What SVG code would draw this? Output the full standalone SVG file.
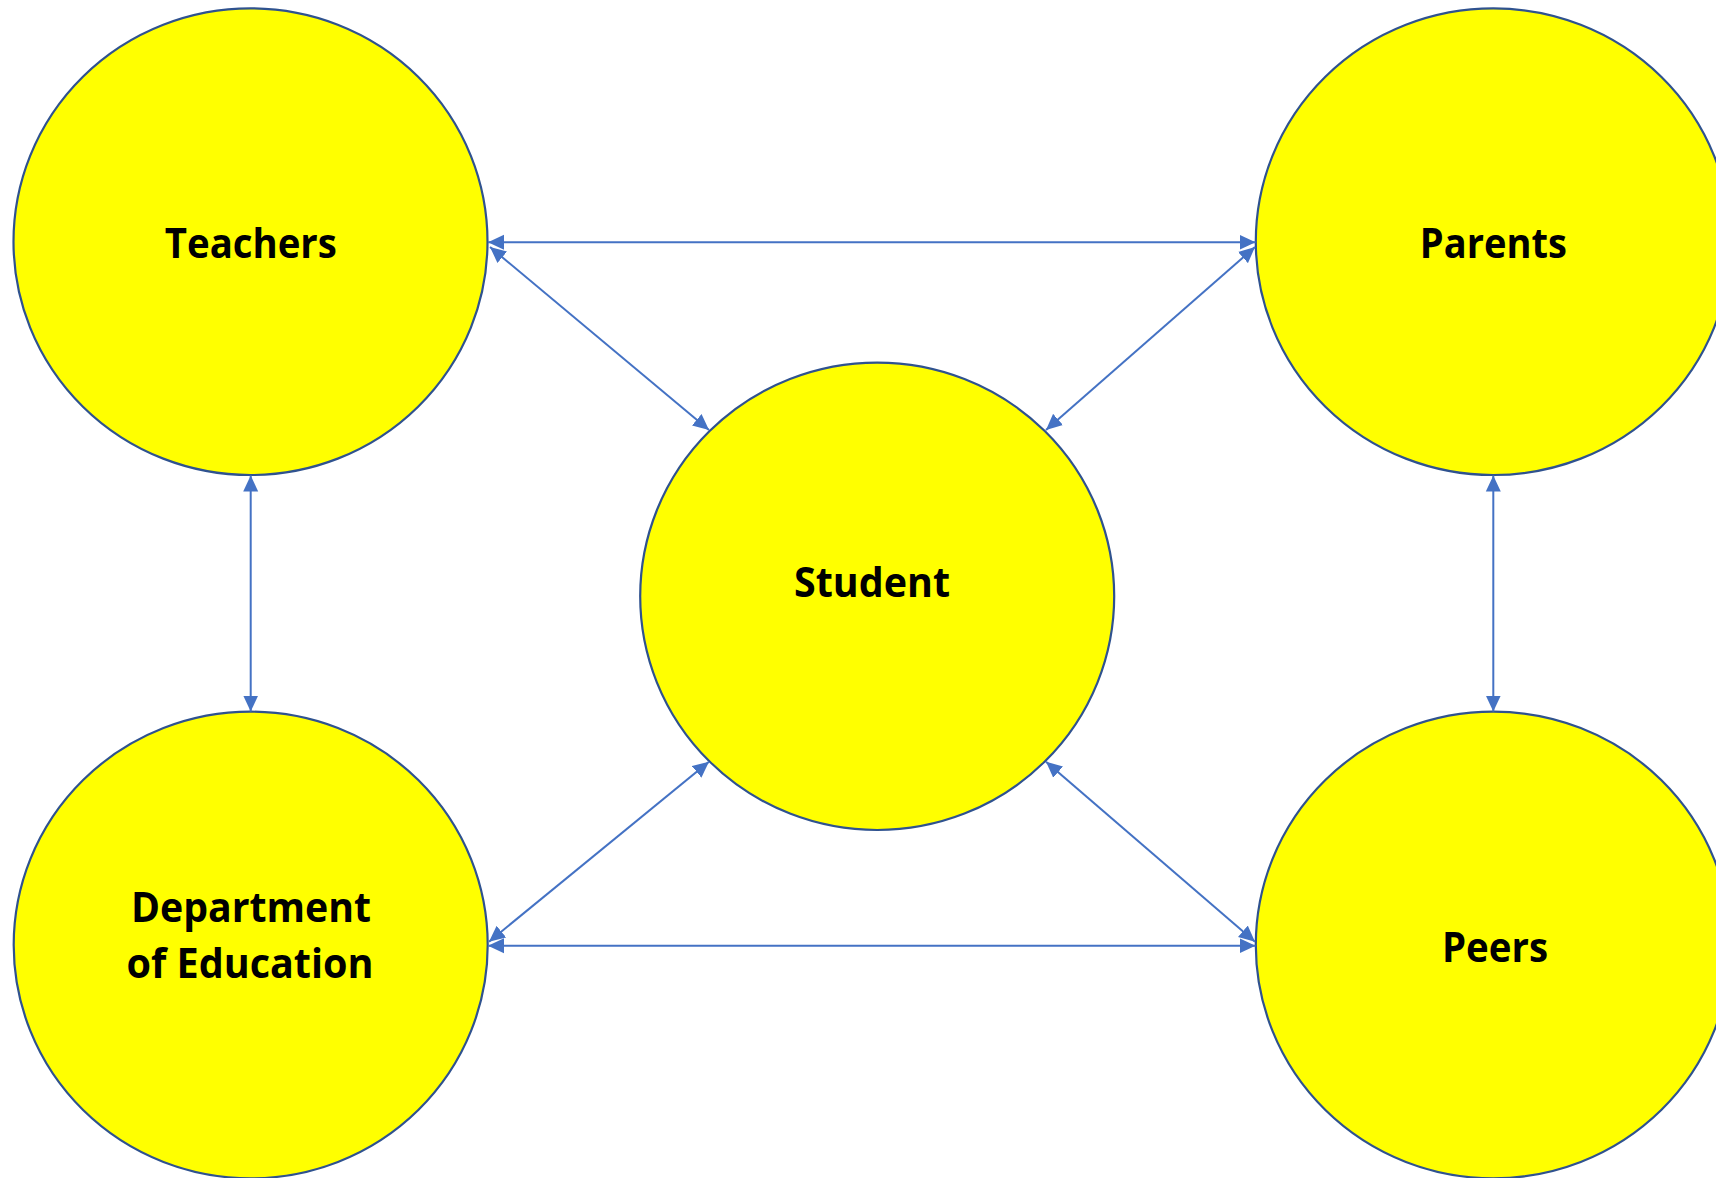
<svg xmlns="http://www.w3.org/2000/svg" width="1716" height="1178" viewBox="0 0 1716 1178">
  <style>
    .node { fill: #FFFF00; stroke: #2F528F; stroke-width: 2.2; }
    .label { font-family: "Open Sans", "Liberation Sans", sans-serif; font-weight: bold; font-size: 42px; fill: #000000; text-anchor: middle; }
    .conn { stroke: #4472C4; stroke-width: 2; fill: none; marker-start: url(#arrow); marker-end: url(#arrow); }
  </style>
  <defs>
    <marker id="arrow" markerUnits="userSpaceOnUse" markerWidth="16" markerHeight="16" refX="16" refY="7.5" orient="auto-start-reverse" viewBox="0 0 16 15">
      <path d="M0,0 L16,7.5 L0,15 Z" fill="#4472C4"/>
    </marker>
  </defs>
  <rect width="1716" height="1178" fill="#FFFFFF"/>

  <g id="teachers">
    <ellipse class="node" cx="250.5" cy="241.7" rx="237" ry="233.3"/>
    <text class="label" x="250.8" y="258.3" textLength="172" lengthAdjust="spacingAndGlyphs">Teachers</text>
  </g>
  <g id="parents">
    <ellipse class="node" cx="1493.3" cy="241.7" rx="237.5" ry="233.3"/>
    <text class="label" x="1493.3" y="258.3" textLength="147" lengthAdjust="spacingAndGlyphs">Parents</text>
  </g>
  <g id="student">
    <ellipse class="node" cx="877.2" cy="596.3" rx="237" ry="233.7"/>
    <text class="label" x="872" y="596.7" textLength="156" lengthAdjust="spacingAndGlyphs">Student</text>
  </g>
  <g id="department">
    <ellipse class="node" cx="250.7" cy="945" rx="237" ry="233.3"/>
    <text class="label" x="251" y="921.7" textLength="240" lengthAdjust="spacingAndGlyphs">Department</text>
    <text class="label" x="250" y="977.7" textLength="247" lengthAdjust="spacingAndGlyphs">of Education</text>
  </g>
  <g id="peers">
    <ellipse class="node" cx="1493.3" cy="945" rx="237.5" ry="233.3"/>
    <text class="label" x="1495" y="961.7" textLength="106" lengthAdjust="spacingAndGlyphs">Peers</text>
  </g>

  <g id="connectors">
    <line class="conn" x1="488" y1="242.3" x2="1255.5" y2="242.3"/>
    <line class="conn" x1="488" y1="945.7" x2="1255.5" y2="945.7"/>
    <line class="conn" x1="250.7" y1="475.5" x2="250.7" y2="711.5"/>
    <line class="conn" x1="1493.3" y1="475.5" x2="1493.3" y2="711.5"/>
    <line class="conn" x1="490" y1="247" x2="709" y2="430"/>
    <line class="conn" x1="1255" y1="247" x2="1046" y2="430"/>
    <line class="conn" x1="489" y1="941.7" x2="709" y2="761.7"/>
    <line class="conn" x1="1255" y1="941.7" x2="1046" y2="761.7"/>
  </g>
</svg>
